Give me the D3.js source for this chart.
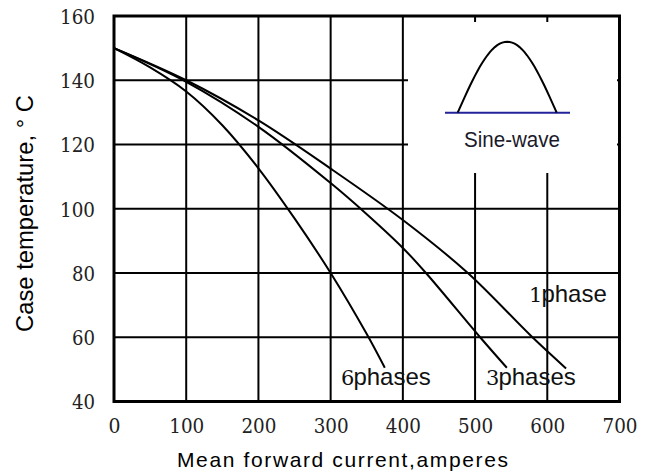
<!DOCTYPE html>
<html>
<head>
<meta charset="utf-8">
<script src="https://cdn.jsdelivr.net/npm/d3@7"></script>
<style>
  html, body { margin: 0; padding: 0; background: #fff; }
  svg { display: block; }
</style>
</head>
<body>
<svg id="chart" width="648" height="472"></svg>
<script>
// ---- data ----
const xTicks = [0, 100, 200, 300, 400, 500, 600, 700];
const yTicks = [40, 60, 80, 100, 120, 140, 160];
const xTitle = "Mean forward current,amperes";
const yTitle = "Case temperature, \u00B0 C";

const onePhase = [[0,150],[100,140],[200,127.5],[300,112.5],[400,96.5],[490,80],[578,60.3],[626,50.3]];
const threePhase = [[0,150],[100,139.5],[200,125.5],[300,108],[350,98.3],[400,87.8],[432,80],[507,60],[544,50.5]];
const sixPhase = [[0,150],[50,144],[100,136.5],[150,126],[200,112.6],[250,97],[300,80],[350,61],[375,50.5]];

const seriesLabels = [
  { num: "1", text: "phase",  x: 529,   y: 302 },
  { num: "6", text: "phases", x: 341,   y: 385 },
  { num: "3", text: "phases", x: 486,   y: 385 }
];

// ---- layout ----
const svg = d3.select("#chart");
const L = 114, R = 619.5, T = 16, B = 401.5;
const x = d3.scaleLinear().domain([0, 700]).range([L, R]);
const y = d3.scaleLinear().domain([40, 160]).range([B, T]);
const SERIF = "'DejaVu Serif', serif";
const SANS = "'Liberation Sans', Arial, sans-serif";

// grid
const grid = svg.append("g").attr("stroke", "#000").attr("stroke-width", 2);
grid.selectAll("line.v").data(xTicks.filter(d => d > 0 && d < 700)).enter()
  .append("line").attr("x1", d => x(d)).attr("x2", d => x(d)).attr("y1", T).attr("y2", B);
grid.selectAll("line.h").data(yTicks.filter(d => d > 40 && d < 160)).enter()
  .append("line").attr("y1", d => y(d)).attr("y2", d => y(d)).attr("x1", L).attr("x2", R);

// inset white box (covers gridlines)
svg.append("rect").attr("x", 408).attr("y", 22).attr("width", 209).attr("height", 151)
  .attr("fill", "#fff");

// sine-wave icon
const baseY = 112.7, x0 = 457.7, x1 = 556.7, amp = 71;
const sinePts = d3.range(0, 41).map(i => [x0 + (x1 - x0) * i / 40, baseY - amp * Math.sin(Math.PI * i / 40)]);
svg.append("line").attr("x1", 445).attr("x2", 570).attr("y1", baseY).attr("y2", baseY)
  .attr("stroke", "#22229a").attr("stroke-width", 2);
svg.append("path").attr("d", d3.line()(sinePts)).attr("fill", "none")
  .attr("stroke", "#000").attr("stroke-width", 2);
svg.append("text").attr("x", 464).attr("y", 147)
  .style("font-family", SANS).style("font-size", "22px").attr("fill", "#1a1a2a")
  .attr("textLength", 96).attr("lengthAdjust", "spacingAndGlyphs").text("Sine-wave");

// frame
svg.append("rect").attr("x", L).attr("y", T).attr("width", R - L).attr("height", B - T)
  .attr("fill", "none").attr("stroke", "#000").attr("stroke-width", 3);

// curves
const line = d3.line().x(d => x(d[0])).y(d => y(d[1])).curve(d3.curveCatmullRom.alpha(0.5));
svg.selectAll("path.curve").data([onePhase, threePhase, sixPhase]).enter()
  .append("path").attr("class", "curve").attr("d", line)
  .attr("fill", "none").attr("stroke", "#000").attr("stroke-width", 2);

// axes
const xAxis = svg.append("g").attr("transform", `translate(0,${B})`)
  .call(d3.axisBottom(x).tickValues(xTicks).tickSize(0).tickPadding(0).tickFormat(d3.format("d")));
xAxis.attr("font-family", null).attr("font-size", null);
xAxis.select(".domain").remove();
xAxis.selectAll("text").style("font-family", SERIF).style("font-size", "20.5px")
  .attr("fill", "#222").attr("dy", null).attr("y", 31)
  .attr("textLength", d => d === 0 ? 12 : 35).attr("lengthAdjust", "spacingAndGlyphs");

const yAxis = svg.append("g").attr("transform", `translate(${L},0)`)
  .call(d3.axisLeft(y).tickValues(yTicks).tickSize(0).tickPadding(0).tickFormat(d3.format("d")));
yAxis.attr("font-family", null).attr("font-size", null);
yAxis.select(".domain").remove();
yAxis.selectAll("text").style("font-family", SERIF).style("font-size", "20.5px")
  .attr("fill", "#222").attr("x", -19).attr("dy", "0.36em")
  .attr("textLength", d => d >= 100 ? 35 : 23).attr("lengthAdjust", "spacingAndGlyphs");

// axis titles
svg.append("text").attr("x", 177).attr("y", 467).style("font-family", SANS).style("font-size", "21px")
  .attr("fill", "#000").attr("textLength", 331).attr("lengthAdjust", "spacing").text(xTitle);
svg.append("text").attr("transform", "translate(33,332) rotate(-90)")
  .style("font-family", SANS).style("font-size", "24px").attr("fill", "#000")
  .attr("textLength", 237).attr("lengthAdjust", "spacingAndGlyphs").text(yTitle);

// series labels
seriesLabels.forEach(s => {
  const t = svg.append("text").attr("x", s.x).attr("y", s.y).attr("fill", "#111");
  t.append("tspan").style("font-family", SERIF).style("font-size", "21px").text(s.num);
  t.append("tspan").attr("dx", -1).style("font-family", SANS).style("font-size", "24px").text(s.text);
});
</script>
</body>
</html>
